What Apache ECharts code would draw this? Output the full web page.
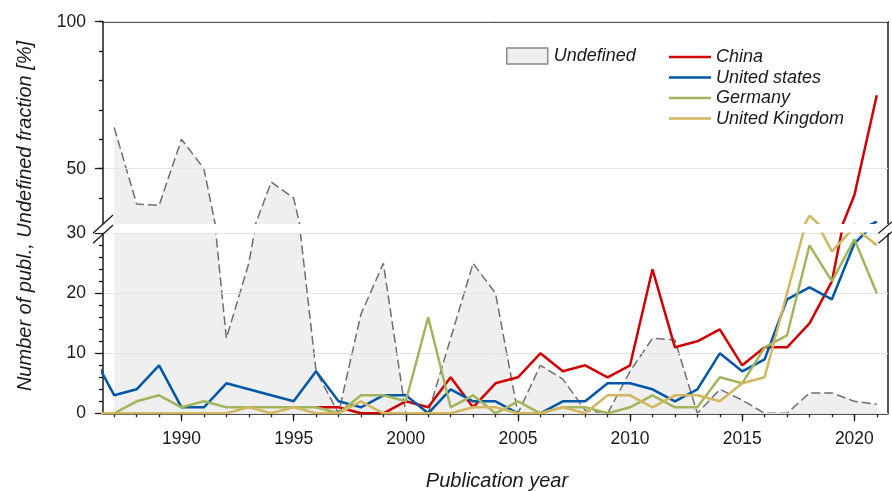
<!DOCTYPE html>
<html>
<head>
<meta charset="utf-8">
<script src="https://cdn.jsdelivr.net/npm/echarts@6/dist/echarts.min.js"></script>
<style>html,body{margin:0;padding:0;background:#fff}#c{width:892px;height:491px}</style>
</head>
<body>
<div id="c"></div>
<script>
const years = [1986,1987,1988,1989,1990,1991,1992,1993,1994,1995,1996,1997,1998,1999,2000,2001,2002,2003,2004,2005,2006,2007,2008,2009,2010,2011,2012,2013,2014,2015,2016,2017,2018,2019,2020,2021];
const undefinedFrac = [null,64,38,37.5,60,50,12.5,25,45.5,40,7,0,16.5,25,0,0,12.5,25,20,0,8,5.7,0.5,0,7,12.5,12.2,0,4,2.2,0,0,3.4,3.4,2,1.5];
const china   = [null,null,null,null,null,null,null,null,null,null,1,1,0,0,2,1,6,1,5,6,10,7,8,6,8,24,11,12,14,8,11,11,15,22,41,75];
const usa     = [10,3,4,8,1,1,5,4,3,2,7,2,1,3,3,0,4,2,2,0,0,2,2,5,5,4,2,4,10,7,9,19,21,19,28.3,32];
const germany = [0,0,2,3,1,2,1,1,1,1,1,0,3,3,2,16,1,3,0,2,0,1,1,0,1,3,1,1,6,5,11,13,28,22,29,20];
const uk      = [0,0,0,0,0,0,0,1,0,1,0,0,2,0,0,0,0,1,1,0,0,1,0,3,3,1,3,3,2,5,6,20,34,27,31,28];
const xLabelYears = [1990,1995,2000,2005,2010,2015,2020];
const xTickYears = years.slice(1);
const upperLabels = [50,100];

const names = ['China','United states','Germany','United Kingdom'];
const colors = ['#d00000','#0056a8','#a2b55c','#d4b660'];
const countryData = [china, usa, germany, uk];
const pair = arr => years.map((y,i)=>[y, arr[i]]);

const font = 'Liberation Sans, Arial, sans-serif';
const ink = '#1a1a1a';
const axisLine = {show:true, lineStyle:{color:ink, width:1.5}};

const series = [];
[[0,0],[1,3]].forEach(([xi, yi]) => {
  series.push({
    name:'Undefined', type:'line', xAxisIndex:xi, yAxisIndex:yi,
    data: pair(undefinedFrac), symbol:'none', z:1, connectNulls:false,
    lineStyle:{color:'#6e6e6e', width:1.5, type:[9,4]},
    areaStyle:{color:'#efefef', opacity:1, origin:'start'}
  });
  names.forEach((n,k)=>{
    series.push({
      name:n, type:'line', xAxisIndex:xi, yAxisIndex:yi,
      data: pair(countryData[k]), symbol:'none', z:3,
      lineStyle:{color:colors[k], width:2.5}, itemStyle:{color:colors[k]}
    });
  });
});

const chart = echarts.init(document.getElementById('c'));
chart.setOption({
  animation:false,
  backgroundColor:'#fff',
  grid:[
    {left:103, right:4, top:21.7, height:205.8},
    {left:103, right:4, top:233.3, height:180}
  ],
  xAxis:[
    {gridIndex:0, type:'value', min:1986.5, max:2021.5, position:'top',
     axisLine:axisLine, axisTick:{show:false}, axisLabel:{show:false}, splitLine:{show:false}},
    {gridIndex:1, type:'value', min:1986.5, max:2021.5, position:'bottom',
     axisLine:axisLine,
     axisTick:{show:true, length:8, lineStyle:{color:ink, width:1.3}, customValues:xLabelYears},
     axisLabel:{show:true, customValues:xLabelYears, formatter:v=>String(v), margin:17, fontSize:17.5, color:ink, fontFamily:font},
     splitLine:{show:false}},
    {gridIndex:1, type:'value', min:1986.5, max:2021.5, position:'bottom',
     axisLine:{show:false},
     axisTick:{show:true, length:4, lineStyle:{color:ink, width:1.3}, customValues:xTickYears},
     axisLabel:{show:false}, splitLine:{show:false}}
  ],
  yAxis:[
    {gridIndex:0, type:'value', min:30, max:100, position:'left', z:2,
     axisLine:axisLine,
     axisTick:{show:true, length:8, lineStyle:{color:ink, width:1.3}, customValues:upperLabels},
     axisLabel:{show:true, customValues:upperLabels, margin:17, fontSize:17.5, color:ink, fontFamily:font},
     splitLine:{show:true, lineStyle:{color:'#e4e4e4', width:1}}},
    {gridIndex:0, type:'value', min:30, max:100, interval:10, position:'left',
     axisLine:{show:false},
     axisTick:{show:true, length:4, lineStyle:{color:ink, width:1.3}},
     axisLabel:{show:false}, splitLine:{show:false}},
    {gridIndex:0, type:'value', min:30, max:100, position:'right',
     axisLine:axisLine, axisTick:{show:false}, axisLabel:{show:false}, splitLine:{show:false}},
    {gridIndex:1, type:'value', min:0, max:30, interval:10, position:'left', z:2,
     axisLine:axisLine,
     axisTick:{show:true, length:8, lineStyle:{color:ink, width:1.3}},
     minorTick:{show:true, splitNumber:5, length:4, lineStyle:{color:ink, width:1.3}},
     axisLabel:{show:true, margin:17, fontSize:17.5, color:ink, fontFamily:font},
     splitLine:{show:true, lineStyle:{color:'#e4e4e4', width:1}}},
    {gridIndex:1, type:'value', min:0, max:30, position:'right',
     axisLine:axisLine, axisTick:{show:false}, axisLabel:{show:false}, splitLine:{show:false}}
  ],
  legend:[
    {data:[{name:'Undefined', icon:'rect', itemStyle:{color:'#efefef', borderColor:'#8a8a8a', borderWidth:1.5}}],
     left:501, top:42, itemWidth:41, itemHeight:16,
     textStyle:{fontSize:18, fontStyle:'italic', color:ink, fontFamily:font, padding:[0,0,0,1]}},
    {data:names.map((n,k)=>({name:n, icon:'rect', itemStyle:{color:colors[k]}})),
     orient:'vertical', left:664, top:42, itemWidth:42, itemHeight:2.5, itemGap:0.5,
     textStyle:{fontSize:18, fontStyle:'italic', color:ink, fontFamily:font, lineHeight:20, padding:[0,0,0,0]}}
  ],
  graphic:[
    {type:'rect', z:100, silent:true, shape:{x:90, y:224, width:802, height:8.6}, style:{fill:'#fff'}},
    {type:'line', z:101, silent:true, shape:{x1:93, y1:233.3, x2:113, y2:215}, style:{stroke:ink, lineWidth:1.3}},
    {type:'line', z:101, silent:true, shape:{x1:93, y1:243.3, x2:113, y2:225}, style:{stroke:ink, lineWidth:1.3}},
    {type:'line', z:101, silent:true, shape:{x1:878.5, y1:233.3, x2:892, y2:221.7}, style:{stroke:ink, lineWidth:1.3}},
    {type:'line', z:101, silent:true, shape:{x1:878.5, y1:243.3, x2:892, y2:231.7}, style:{stroke:ink, lineWidth:1.3}},
    {type:'text', z:101, silent:true, x:25, y:216, rotation:Math.PI/2,
     style:{text:'Number of publ., Undefined fraction [%]', fontSize:20, fontStyle:'italic', fontFamily:font, fill:ink, textAlign:'center', textVerticalAlign:'middle'}},
    {type:'text', z:101, silent:true, x:497, y:481,
     style:{text:'Publication year', fontSize:20, fontStyle:'italic', fontFamily:font, fill:ink, textAlign:'center', textVerticalAlign:'middle'}}
  ],
  series:series
});
</script>
</body>
</html>
